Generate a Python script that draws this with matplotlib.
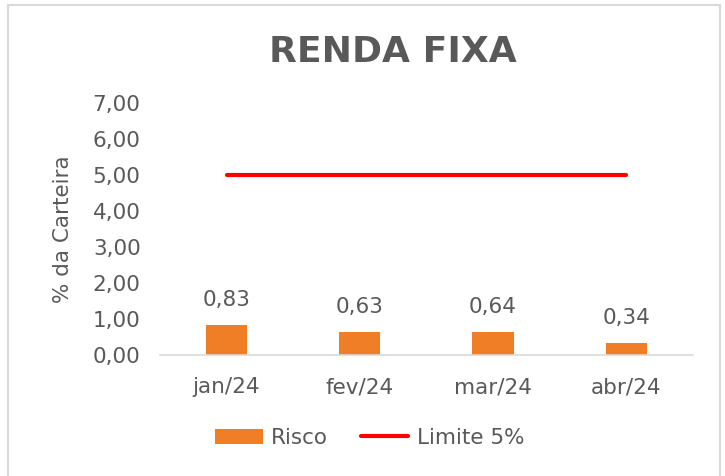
import matplotlib
matplotlib.use("Agg")
import matplotlib.pyplot as plt
from matplotlib.patches import Rectangle

months = ["jan/24", "fev/24", "mar/24", "abr/24"]
risco = [0.83, 0.63, 0.64, 0.34]
limite = [5.0, 5.0, 5.0, 5.0]
yticks = [0, 1, 2, 3, 4, 5, 6, 7]

GRAY = "#595959"
plt.rcParams["font.family"] = ["DejaVu Sans"]

fig = plt.figure(figsize=(7.25, 4.76), dpi=100)
fig.patches.append(Rectangle((0.011, -0.01), 0.982, 1.0, transform=fig.transFigure,
                             fill=False, edgecolor="#D9D9D9", linewidth=1.5))
ax = fig.add_axes([0.2207, 0.254, 0.735, 0.53])

x = list(range(len(months)))
bars = ax.bar(x, risco, width=0.31, color="#F07E26", label="Risco", zorder=2)
line, = ax.plot(x, limite, color="#FF0000", linewidth=3, solid_capstyle="round",
                label="Limite 5%", zorder=3)
for xi, v in zip(x, risco):
    ax.text(xi, v + 0.42, f"{v:.2f}".replace(".", ","), ha="center", va="bottom",
            fontsize=15.5, color=GRAY)

ax.set_xlim(-0.5, 3.5)
ax.set_ylim(0, 7)
ax.set_yticks(yticks)
ax.set_yticklabels([f"{t:.2f}".replace(".", ",") for t in yticks])
ax.set_xticks(x)
ax.set_xticklabels(months)
ax.tick_params(axis="both", length=0, labelsize=15.5, labelcolor=GRAY)
ax.tick_params(axis="x", pad=16)
ax.tick_params(axis="y", pad=14)
for s in ["top", "right", "left"]:
    ax.spines[s].set_visible(False)
ax.spines["bottom"].set_color("#D9D9D9")
ax.spines["bottom"].set_linewidth(1.2)
ax.set_ylabel("% da Carteira", fontsize=15.5, color=GRAY, labelpad=14)

fig.text(0.542, 0.89, "RENDA FIXA", ha="center", va="center", fontsize=26,
         fontweight="heavy", color=GRAY)

fig.legend(handles=[bars, line], loc="center", bbox_to_anchor=(0.51, 0.08), ncol=2,
           frameon=False, fontsize=15.5, labelcolor=GRAY, handlelength=2.2,
           handleheight=0.7, columnspacing=1.5, handletextpad=0.4)

fig.savefig("out.png", dpi=100)
